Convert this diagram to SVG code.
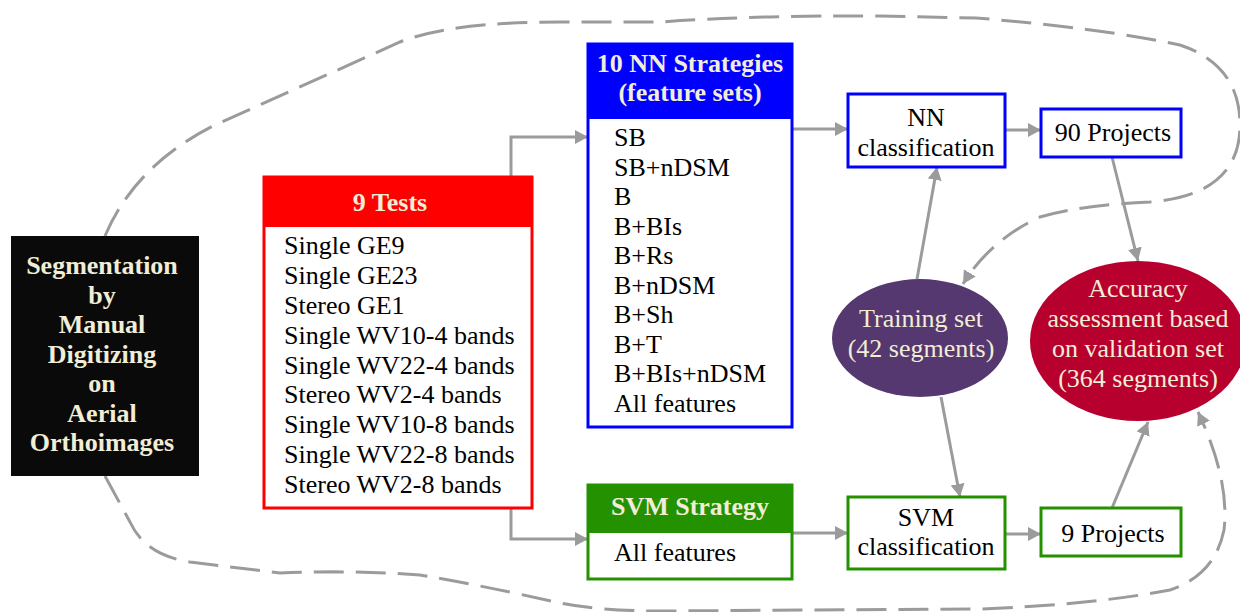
<svg xmlns="http://www.w3.org/2000/svg" width="1240" height="612" viewBox="0 0 1240 612">
<defs>
<marker id="ah" markerUnits="userSpaceOnUse" markerWidth="14" markerHeight="15" refX="13" refY="7" orient="auto">
<path d="M0,0 L13,7 L0,14 z" fill="#9b9b9b"/>
</marker>
<style>
text{font-family:"Liberation Serif","Times New Roman",serif;font-size:26px;fill:#000}
.b{font-weight:bold}
.c{fill:#f1edd6}
.m{text-anchor:middle}
.conn{fill:none;stroke:#9b9b9b;stroke-width:3}
.dash{fill:none;stroke:#9b9b9b;stroke-width:3;stroke-dasharray:30 12}
.wb{fill:#fff;stroke-width:3}
</style>
</defs>
<rect width="1240" height="612" fill="#fff"/>

<g id="connectors">
<path class="dash" d="M105,236 Q135,165 215,125 L400,42 Q450,22 560,22 L660,22 Q760,15 880,16 L976,18 Q1100,28 1180,45 Q1240,65 1240,125 Q1240,195 1150,202 Q1080,205 1040,217 Q990,240 963,284" marker-end="url(#ah)"/>
<path class="dash" d="M105,476 L130,522 Q145,555 190,562 L280,573 Q350,570 420,575 Q480,585 560,603 Q600,611 660,611 L980,609 Q1090,605 1170,590 Q1215,575 1224,530 Q1230,480 1198,412" marker-end="url(#ah)"/>
<path class="conn" d="M511,177 V137 H588" marker-end="url(#ah)"/>
<path class="conn" d="M511,508 V539 H588" marker-end="url(#ah)"/>
<path class="conn" d="M792,129 H848" marker-end="url(#ah)"/>
<path class="conn" d="M1005,130 H1041" marker-end="url(#ah)"/>
<path class="conn" d="M792,533 H848" marker-end="url(#ah)"/>
<path class="conn" d="M1005,534 H1041" marker-end="url(#ah)"/>
<path class="conn" d="M917,279 L937,167" marker-end="url(#ah)"/>
<path class="conn" d="M1112,157 L1138,261" marker-end="url(#ah)"/>
<path class="conn" d="M941,397 L960,497" marker-end="url(#ah)"/>
<path class="conn" d="M1112,508 L1148,422" marker-end="url(#ah)"/>
</g>

<g id="segmentation">
<rect x="11" y="236" width="188" height="240" fill="#0a0a0a"/>
<text class="b c m" x="102" y="274">Segmentation</text>
<text class="b c m" x="102" y="303.5">by</text>
<text class="b c m" x="102" y="333">Manual</text>
<text class="b c m" x="102" y="362.5">Digitizing</text>
<text class="b c m" x="102" y="392">on</text>
<text class="b c m" x="102" y="421.5">Aerial</text>
<text class="b c m" x="102" y="451">Orthoimages</text>
</g>

<g id="tests">
<rect class="wb" x="264" y="177" width="268" height="331" stroke="#ff0000"/>
<rect x="264" y="177" width="268" height="50" fill="#ff0000"/>
<text class="b c m" x="390" y="211">9 Tests</text>
<text x="284" y="254">Single GE9</text>
<text x="284" y="284">Single GE23</text>
<text x="284" y="314">Stereo GE1</text>
<text x="284" y="343.5">Single WV10-4 bands</text>
<text x="284" y="373.5">Single WV22-4 bands</text>
<text x="284" y="403">Stereo WV2-4 bands</text>
<text x="284" y="433">Single WV10-8 bands</text>
<text x="284" y="463">Single WV22-8 bands</text>
<text x="284" y="493">Stereo WV2-8 bands</text>
</g>

<g id="nn-strategies">
<rect class="wb" x="588" y="44" width="204" height="383" stroke="#0000ff"/>
<rect x="588" y="44" width="204" height="75" fill="#0000ff"/>
<text class="b c m" x="690" y="72">10 NN Strategies</text>
<text class="b c m" x="690" y="101">(feature sets)</text>
<text x="614" y="146">SB</text>
<text x="614" y="175.5">SB+nDSM</text>
<text x="614" y="205">B</text>
<text x="614" y="234.5">B+BIs</text>
<text x="614" y="264">B+Rs</text>
<text x="614" y="293.5">B+nDSM</text>
<text x="614" y="323">B+Sh</text>
<text x="614" y="352.5">B+T</text>
<text x="614" y="382">B+BIs+nDSM</text>
<text x="614" y="412">All features</text>
</g>

<g id="svm-strategy">
<rect class="wb" x="588" y="485" width="204" height="94" stroke="#239100"/>
<rect x="588" y="485" width="204" height="48" fill="#239100"/>
<text class="b c m" x="690" y="515">SVM Strategy</text>
<text x="614" y="561">All features</text>
</g>

<g id="nn-classification">
<rect class="wb" x="848" y="94" width="157" height="73" stroke="#0000ff"/>
<text class="m" x="926" y="126">NN</text>
<text class="m" x="926" y="156">classification</text>
</g>

<g id="projects-90">
<rect class="wb" x="1041" y="109" width="140" height="48" stroke="#0000ff"/>
<text class="m" x="1113" y="141">90 Projects</text>
</g>

<g id="svm-classification">
<rect class="wb" x="848" y="497" width="157" height="72" stroke="#239100"/>
<text class="m" x="926" y="526">SVM</text>
<text class="m" x="926" y="555">classification</text>
</g>

<g id="projects-9">
<rect class="wb" x="1041" y="508" width="140" height="48" stroke="#239100"/>
<text class="m" x="1113" y="542">9 Projects</text>
</g>

<g id="training-set">
<ellipse cx="920" cy="338" rx="88" ry="59" fill="#553870"/>
<text class="c m" x="921" y="327">Training set</text>
<text class="c m" x="921" y="357">(42 segments)</text>
</g>

<g id="accuracy">
<ellipse cx="1138" cy="341" rx="108" ry="80" fill="#b8002e"/>
<text class="c m" x="1138" y="297">Accuracy</text>
<text class="c m" x="1138" y="327">assessment based</text>
<text class="c m" x="1138" y="357">on validation set</text>
<text class="c m" x="1138" y="387">(364 segments)</text>
</g>
</svg>
